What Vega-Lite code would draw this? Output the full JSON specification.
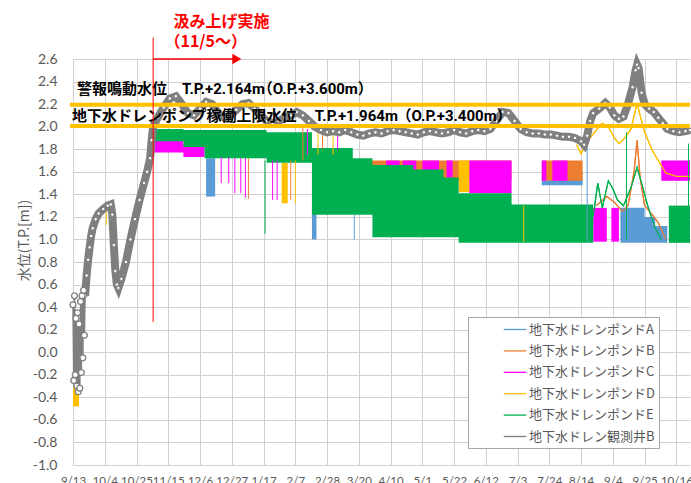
{
  "$schema": "https://vega.github.io/schema/vega-lite/v6.json",
  "width": 617,
  "height": 406,
  "autosize": {"type": "none"},
  "padding": {"left": 73, "top": 59, "right": 1, "bottom": 18},
  "background": "white",
  "config": {"view": {"stroke": null}},
  "datasets": {
    "bands": [
      {"s":"A","g":"A1","d":"2015-12-10","v":1.38,"v2":1.72},
      {"s":"A","g":"A1","d":"2015-12-16","v":1.38,"v2":1.72},
      {"s":"A","g":"A2","d":"2016-02-18","v":1.0,"v2":1.3},
      {"s":"A","g":"A2","d":"2016-02-21","v":1.0,"v2":1.3},
      {"s":"A","g":"A3","d":"2016-07-19","v":1.48,"v2":1.6},
      {"s":"A","g":"A3","d":"2016-08-15","v":1.48,"v2":1.6},
      {"s":"A","g":"A4","d":"2016-09-09","v":0.97,"v2":1.28},
      {"s":"A","g":"A4","d":"2016-09-25","v":0.97,"v2":1.2},
      {"s":"A","g":"A4","d":"2016-10-02","v":0.97,"v2":1.12},
      {"s":"A","g":"A4","d":"2016-10-10","v":0.97,"v2":1.12},
      {"s":"B","g":"B1","d":"2016-03-16","v":1.52,"v2":1.7},
      {"s":"B","g":"B1","d":"2016-06-29","v":1.52,"v2":1.7},
      {"s":"B","g":"B2","d":"2016-07-19","v":1.52,"v2":1.7},
      {"s":"B","g":"B2","d":"2016-08-15","v":1.52,"v2":1.7},
      {"s":"C","g":"C01","d":"2015-11-05","v":1.77,"v2":1.9},
      {"s":"C","g":"C01","d":"2015-11-25","v":1.73,"v2":1.84},
      {"s":"C","g":"C01","d":"2015-12-09","v":1.73,"v2":1.84},
      {"s":"C","g":"C02","d":"2016-04-07","v":1.55,"v2":1.7},
      {"s":"C","g":"C02","d":"2016-04-16","v":1.55,"v2":1.7},
      {"s":"C","g":"C03","d":"2016-04-18","v":1.55,"v2":1.7},
      {"s":"C","g":"C03","d":"2016-04-27","v":1.55,"v2":1.7},
      {"s":"C","g":"C04","d":"2016-05-01","v":1.55,"v2":1.7},
      {"s":"C","g":"C04","d":"2016-05-12","v":1.55,"v2":1.7},
      {"s":"C","g":"C05","d":"2016-05-17","v":1.55,"v2":1.7},
      {"s":"C","g":"C05","d":"2016-05-21","v":1.55,"v2":1.7},
      {"s":"C","g":"C06","d":"2016-06-01","v":1.41,"v2":1.7},
      {"s":"C","g":"C06","d":"2016-06-29","v":1.41,"v2":1.7},
      {"s":"C","g":"C07","d":"2016-07-19","v":1.52,"v2":1.7},
      {"s":"C","g":"C07","d":"2016-07-22","v":1.52,"v2":1.7},
      {"s":"C","g":"C08","d":"2016-07-26","v":1.52,"v2":1.7},
      {"s":"C","g":"C08","d":"2016-08-05","v":1.52,"v2":1.7},
      {"s":"C","g":"C09","d":"2016-08-22","v":0.98,"v2":1.28},
      {"s":"C","g":"C09","d":"2016-08-31","v":0.98,"v2":1.28},
      {"s":"C","g":"C10","d":"2016-09-03","v":0.98,"v2":1.28},
      {"s":"C","g":"C10","d":"2016-09-08","v":0.98,"v2":1.28},
      {"s":"C","g":"C11","d":"2016-10-06","v":1.52,"v2":1.7},
      {"s":"C","g":"C11","d":"2016-10-25","v":1.52,"v2":1.7},
      {"s":"D","g":"D0","d":"2015-09-13","v":-0.48,"v2":-0.3},
      {"s":"D","g":"D0","d":"2015-09-17","v":-0.48,"v2":-0.3},
      {"s":"D","g":"D1","d":"2016-01-29","v":1.32,"v2":1.68},
      {"s":"D","g":"D1","d":"2016-02-02","v":1.32,"v2":1.68},
      {"s":"D","g":"D2","d":"2016-05-25","v":1.42,"v2":1.7},
      {"s":"D","g":"D2","d":"2016-06-01","v":1.42,"v2":1.7},
      {"s":"E","g":"E1","d":"2015-11-05","v":1.87,"v2":1.98},
      {"s":"E","g":"E1","d":"2015-11-25","v":1.82,"v2":1.97},
      {"s":"E","g":"E1","d":"2015-12-09","v":1.72,"v2":1.97},
      {"s":"E","g":"E1","d":"2016-01-19","v":1.68,"v2":1.95},
      {"s":"E","g":"E1","d":"2016-02-18","v":1.22,"v2":1.81},
      {"s":"E","g":"E1","d":"2016-03-16","v":1.22,"v2":1.72},
      {"s":"E","g":"E1","d":"2016-03-29","v":1.02,"v2":1.66},
      {"s":"E","g":"E1","d":"2016-04-25","v":1.02,"v2":1.62},
      {"s":"E","g":"E1","d":"2016-05-15","v":1.02,"v2":1.55},
      {"s":"E","g":"E1","d":"2016-05-25","v":0.97,"v2":1.41},
      {"s":"E","g":"E1","d":"2016-06-29","v":0.97,"v2":1.31},
      {"s":"E","g":"E1","d":"2016-08-22","v":0.97,"v2":1.31},
      {"s":"E","g":"E2","d":"2016-10-11","v":0.97,"v2":1.3},
      {"s":"E","g":"E2","d":"2016-10-25","v":0.97,"v2":1.3}
    ],
    "spikes": [
      {"s":"D","d":"2015-10-05","v":1.13,"v2":1.27},
      {"s":"C","d":"2015-12-20","v":1.5,"v2":1.73},
      {"s":"C","d":"2015-12-25","v":1.5,"v2":1.73},
      {"s":"C","d":"2015-12-29","v":1.41,"v2":1.72},
      {"s":"C","d":"2016-01-02","v":1.41,"v2":1.72},
      {"s":"C","d":"2016-01-05","v":1.37,"v2":1.72},
      {"s":"B","d":"2016-01-07","v":1.36,"v2":1.72},
      {"s":"E","d":"2016-01-18","v":1.05,"v2":1.7},
      {"s":"C","d":"2016-01-23","v":1.35,"v2":1.7},
      {"s":"C","d":"2016-01-26","v":1.35,"v2":1.7},
      {"s":"B","d":"2016-02-04","v":1.35,"v2":1.7},
      {"s":"D","d":"2016-02-07","v":1.32,"v2":1.7},
      {"s":"B","d":"2016-02-12","v":1.7,"v2":2.0},
      {"s":"C","d":"2016-02-15","v":1.75,"v2":1.98},
      {"s":"D","d":"2016-02-22","v":1.75,"v2":2.02},
      {"s":"B","d":"2016-02-25","v":1.8,"v2":2.0},
      {"s":"D","d":"2016-03-03","v":1.75,"v2":1.98},
      {"s":"C","d":"2016-03-06","v":1.8,"v2":1.97},
      {"s":"A","d":"2016-03-17","v":1.0,"v2":1.22},
      {"s":"D","d":"2016-07-07","v":0.98,"v2":1.3},
      {"s":"A","d":"2016-08-18","v":0.98,"v2":1.85},
      {"s":"E","d":"2016-09-13","v":1.0,"v2":1.95},
      {"s":"E","d":"2016-10-24","v":1.0,"v2":1.85}
    ],
    "thin": [
      {"s":"D","d":"2016-08-11","v":1.84},{"s":"D","d":"2016-08-14","v":1.76},{"s":"D","d":"2016-08-16","v":1.82},
      {"s":"D","d":"2016-08-20","v":1.9},{"s":"D","d":"2016-08-24","v":1.97},{"s":"D","d":"2016-08-28","v":2.03},
      {"s":"D","d":"2016-09-01","v":2.0},{"s":"D","d":"2016-09-05","v":1.9},{"s":"D","d":"2016-09-08","v":1.85},
      {"s":"D","d":"2016-09-12","v":1.9},{"s":"D","d":"2016-09-16","v":1.98},{"s":"D","d":"2016-09-19","v":2.15},
      {"s":"D","d":"2016-09-20","v":2.21},{"s":"D","d":"2016-09-22","v":2.1},{"s":"D","d":"2016-09-25","v":1.95},
      {"s":"D","d":"2016-09-30","v":1.79},{"s":"D","d":"2016-10-04","v":1.7},{"s":"D","d":"2016-10-09","v":1.59},
      {"s":"D","d":"2016-10-16","v":1.56},{"s":"D","d":"2016-10-25","v":1.56},
      {"s":"B","d":"2016-08-24","v":1.3},{"s":"B","d":"2016-08-31","v":1.38},{"s":"B","d":"2016-09-05","v":1.33},
      {"s":"B","d":"2016-09-10","v":1.25},{"s":"B","d":"2016-09-14","v":1.3},{"s":"B","d":"2016-09-18","v":1.6},
      {"s":"B","d":"2016-09-20","v":1.88},{"s":"B","d":"2016-09-22","v":1.55},{"s":"B","d":"2016-09-25","v":1.3},
      {"s":"B","d":"2016-09-30","v":1.22},{"s":"B","d":"2016-10-04","v":1.15},{"s":"B","d":"2016-10-09","v":1.0},
      {"s":"E","d":"2016-08-22","v":1.2},{"s":"E","d":"2016-08-25","v":1.5},{"s":"E","d":"2016-08-28","v":1.28},
      {"s":"E","d":"2016-09-01","v":1.52},{"s":"E","d":"2016-09-04","v":1.45},{"s":"E","d":"2016-09-07","v":1.35},
      {"s":"E","d":"2016-09-11","v":1.3},{"s":"E","d":"2016-09-16","v":1.46},{"s":"E","d":"2016-09-20","v":1.64},
      {"s":"E","d":"2016-09-23","v":1.5},{"s":"E","d":"2016-09-27","v":1.3},{"s":"E","d":"2016-10-02","v":1.1},
      {"s":"E","d":"2016-10-06","v":1.0}
    ],
    "well": [
      {"s":"W","p":1,"d":"2015-09-13T00:00:00Z","v":0.42},{"s":"W","p":1,"d":"2015-09-13T12:00:00Z","v":-0.25},
      {"s":"W","p":1,"d":"2015-09-14T00:00:00Z","v":0.5},{"s":"W","p":1,"d":"2015-09-14T12:00:00Z","v":-0.2},
      {"s":"W","p":1,"d":"2015-09-15T00:00:00Z","v":0.3},{"s":"W","p":1,"d":"2015-09-15T12:00:00Z","v":-0.3},
      {"s":"W","p":1,"d":"2015-09-16T00:00:00Z","v":0.35},{"s":"W","p":1,"d":"2015-09-16T12:00:00Z","v":-0.35},
      {"s":"W","p":1,"d":"2015-09-17T00:00:00Z","v":0.25},{"s":"W","p":1,"d":"2015-09-17T12:00:00Z","v":-0.32},
      {"s":"W","p":1,"d":"2015-09-18T00:00:00Z","v":0.45},{"s":"W","p":1,"d":"2015-09-18T12:00:00Z","v":-0.18},
      {"s":"W","p":1,"d":"2015-09-19T00:00:00Z","v":0.5},{"s":"W","p":1,"d":"2015-09-19T12:00:00Z","v":-0.05},
      {"s":"W","p":1,"d":"2015-09-20T00:00:00Z","v":0.55},{"s":"W","p":1,"d":"2015-09-20T12:00:00Z","v":0.15},
      {"s":"W","p":0,"d":"2015-09-21","v":0.5},{"s":"W","p":0,"d":"2015-09-22","v":0.68},{"s":"W","p":0,"d":"2015-09-23","v":0.82},
      {"s":"W","p":0,"d":"2015-09-24","v":0.93},{"s":"W","p":0,"d":"2015-09-25","v":1.03},{"s":"W","p":0,"d":"2015-09-26","v":1.1},
      {"s":"W","p":0,"d":"2015-09-28","v":1.18},{"s":"W","p":0,"d":"2015-09-30","v":1.23},{"s":"W","p":0,"d":"2015-10-03","v":1.27},
      {"s":"W","p":0,"d":"2015-10-06","v":1.3},{"s":"W","p":0,"d":"2015-10-08","v":1.31},{"s":"W","p":0,"d":"2015-10-09","v":1.22},
      {"s":"W","p":0,"d":"2015-10-10","v":0.95},{"s":"W","p":0,"d":"2015-10-11","v":0.72},{"s":"W","p":0,"d":"2015-10-12","v":0.6},
      {"s":"W","p":0,"d":"2015-10-13","v":0.57},{"s":"W","p":0,"d":"2015-10-15","v":0.65},{"s":"W","p":0,"d":"2015-10-18","v":0.8},
      {"s":"W","p":0,"d":"2015-10-21","v":1.0},{"s":"W","p":0,"d":"2015-10-24","v":1.18},{"s":"W","p":0,"d":"2015-10-27","v":1.35},
      {"s":"W","p":0,"d":"2015-10-30","v":1.5},{"s":"W","p":0,"d":"2015-11-01","v":1.6},{"s":"W","p":0,"d":"2015-11-03","v":1.72},
      {"s":"W","p":0,"d":"2015-11-04","v":1.88},{"s":"W","p":0,"d":"2015-11-05","v":2.0},{"s":"W","p":0,"d":"2015-11-08","v":2.08},
      {"s":"W","p":0,"d":"2015-11-12","v":2.17},{"s":"W","p":0,"d":"2015-11-16","v":2.25},{"s":"W","p":0,"d":"2015-11-20","v":2.27},
      {"s":"W","p":0,"d":"2015-11-24","v":2.2},{"s":"W","p":0,"d":"2015-11-28","v":2.12},{"s":"W","p":0,"d":"2015-12-02","v":2.1},
      {"s":"W","p":0,"d":"2015-12-06","v":2.16},{"s":"W","p":0,"d":"2015-12-10","v":2.22},{"s":"W","p":0,"d":"2015-12-14","v":2.2},
      {"s":"W","p":0,"d":"2015-12-18","v":2.12},{"s":"W","p":0,"d":"2015-12-22","v":2.08},{"s":"W","p":0,"d":"2015-12-26","v":2.1},
      {"s":"W","p":0,"d":"2015-12-30","v":2.15},{"s":"W","p":0,"d":"2016-01-03","v":2.2},{"s":"W","p":0,"d":"2016-01-07","v":2.21},
      {"s":"W","p":0,"d":"2016-01-11","v":2.16},{"s":"W","p":0,"d":"2016-01-15","v":2.1},{"s":"W","p":0,"d":"2016-01-19","v":2.05},
      {"s":"W","p":0,"d":"2016-01-23","v":2.03},{"s":"W","p":0,"d":"2016-01-27","v":2.05},{"s":"W","p":0,"d":"2016-01-31","v":2.08},
      {"s":"W","p":0,"d":"2016-02-04","v":2.1},{"s":"W","p":0,"d":"2016-02-08","v":2.13},{"s":"W","p":0,"d":"2016-02-12","v":2.1},
      {"s":"W","p":0,"d":"2016-02-16","v":2.05},{"s":"W","p":0,"d":"2016-02-20","v":2.0},{"s":"W","p":0,"d":"2016-02-24","v":1.97},
      {"s":"W","p":0,"d":"2016-02-28","v":1.95},{"s":"W","p":0,"d":"2016-03-03","v":1.96},{"s":"W","p":0,"d":"2016-03-07","v":1.95},
      {"s":"W","p":0,"d":"2016-03-11","v":1.97},{"s":"W","p":0,"d":"2016-03-15","v":1.95},{"s":"W","p":0,"d":"2016-03-19","v":1.93},
      {"s":"W","p":0,"d":"2016-03-23","v":1.92},{"s":"W","p":0,"d":"2016-03-27","v":1.94},{"s":"W","p":0,"d":"2016-03-31","v":1.95},
      {"s":"W","p":0,"d":"2016-04-04","v":1.94},{"s":"W","p":0,"d":"2016-04-08","v":1.96},{"s":"W","p":0,"d":"2016-04-12","v":1.97},
      {"s":"W","p":0,"d":"2016-04-16","v":1.96},{"s":"W","p":0,"d":"2016-04-20","v":1.95},{"s":"W","p":0,"d":"2016-04-24","v":1.94},
      {"s":"W","p":0,"d":"2016-04-28","v":1.93},{"s":"W","p":0,"d":"2016-05-02","v":1.95},{"s":"W","p":0,"d":"2016-05-06","v":1.96},
      {"s":"W","p":0,"d":"2016-05-10","v":1.95},{"s":"W","p":0,"d":"2016-05-14","v":1.94},{"s":"W","p":0,"d":"2016-05-18","v":1.95},
      {"s":"W","p":0,"d":"2016-05-22","v":1.97},{"s":"W","p":0,"d":"2016-05-26","v":1.95},{"s":"W","p":0,"d":"2016-05-30","v":1.94},
      {"s":"W","p":0,"d":"2016-06-03","v":1.96},{"s":"W","p":0,"d":"2016-06-07","v":1.97},{"s":"W","p":0,"d":"2016-06-11","v":1.96},
      {"s":"W","p":0,"d":"2016-06-15","v":1.98},{"s":"W","p":0,"d":"2016-06-19","v":2.05},{"s":"W","p":0,"d":"2016-06-23","v":2.13},
      {"s":"W","p":0,"d":"2016-06-27","v":2.12},{"s":"W","p":0,"d":"2016-07-01","v":2.05},{"s":"W","p":0,"d":"2016-07-05","v":1.98},
      {"s":"W","p":0,"d":"2016-07-09","v":1.95},{"s":"W","p":0,"d":"2016-07-13","v":1.94},{"s":"W","p":0,"d":"2016-07-17","v":1.94},
      {"s":"W","p":0,"d":"2016-07-21","v":1.93},{"s":"W","p":0,"d":"2016-07-25","v":1.93},{"s":"W","p":0,"d":"2016-07-29","v":1.92},
      {"s":"W","p":0,"d":"2016-08-02","v":1.91},{"s":"W","p":0,"d":"2016-08-06","v":1.91},{"s":"W","p":0,"d":"2016-08-10","v":1.9},
      {"s":"W","p":0,"d":"2016-08-14","v":1.87},{"s":"W","p":0,"d":"2016-08-16","v":1.84},{"s":"W","p":0,"d":"2016-08-18","v":1.92},
      {"s":"W","p":0,"d":"2016-08-20","v":2.05},{"s":"W","p":0,"d":"2016-08-22","v":2.12},{"s":"W","p":0,"d":"2016-08-26","v":2.16},
      {"s":"W","p":0,"d":"2016-08-30","v":2.21},{"s":"W","p":0,"d":"2016-09-02","v":2.17},{"s":"W","p":0,"d":"2016-09-05","v":2.1},
      {"s":"W","p":0,"d":"2016-09-08","v":2.07},{"s":"W","p":0,"d":"2016-09-11","v":2.09},{"s":"W","p":0,"d":"2016-09-14","v":2.2},
      {"s":"W","p":0,"d":"2016-09-17","v":2.35},{"s":"W","p":0,"d":"2016-09-19","v":2.5},{"s":"W","p":0,"d":"2016-09-20","v":2.55},
      {"s":"W","p":0,"d":"2016-09-21","v":2.52},{"s":"W","p":0,"d":"2016-09-23","v":2.3},{"s":"W","p":0,"d":"2016-09-25","v":2.2},
      {"s":"W","p":0,"d":"2016-09-28","v":2.16},{"s":"W","p":0,"d":"2016-10-01","v":2.13},{"s":"W","p":0,"d":"2016-10-04","v":2.08},
      {"s":"W","p":0,"d":"2016-10-07","v":2.03},{"s":"W","p":0,"d":"2016-10-10","v":1.98},{"s":"W","p":0,"d":"2016-10-14","v":1.96},
      {"s":"W","p":0,"d":"2016-10-18","v":1.95},{"s":"W","p":0,"d":"2016-10-22","v":1.96},{"s":"W","p":0,"d":"2016-10-25","v":1.97}
    ],
    "thr": [
      {"d":"2015-09-11","d2":"2016-10-25","v":2.195},
      {"d":"2015-09-11","d2":"2016-10-25","v":2.005}
    ],
    "txt": [
      {"d":"2015-09-15T15:00:00Z","v":2.333,"t":"警報鳴動水位"},
      {"d":"2015-11-24T00:00:00Z","v":2.333,"t":"T.P.+2.164m"},
      {"d":"2016-01-13T05:00:00Z","v":2.333,"t":"（O.P.+3.600m）"},
      {"d":"2015-09-12T08:00:00Z","v":2.094,"t":"地下水ドレンポンプ稼働上限水位"},
      {"d":"2016-02-19T22:00:00Z","v":2.094,"t":"T.P.+1.964m"},
      {"d":"2016-04-14T00:00:00Z","v":2.094,"t":"（O.P.+3.400m）"}
    ],
    "redtxt": [
      {"d":"2015-11-18T10:00:00Z","v":2.927,"t":"汲み上げ実施"},
      {"d":"2015-11-12T12:00:00Z","v":2.75,"t":"（11/5～）"}
    ],
    "redv": [{"d":"2015-11-05","v":0.27,"v2":2.79}],
    "redh": [{"d":"2015-11-05","d2":"2015-12-28","v":2.6}],
    "redtri": [{"d":"2015-12-30T08:00:00Z","v":2.6}]
  },
  "encoding": {
    "x": {
      "field": "d", "type": "temporal",
      "scale": {"type": "utc", "domain": [{"year":2015,"month":9,"date":13,"utc":true},{"year":2016,"month":10,"date":25,"utc":true}]},
      "axis": {
        "title": null, "format": "%-m/%-d", "grid": true, "gridColor": "#d0d0d0", "domain": false,
        "ticks": false, "tickSize": 0, "labelPadding": 10, "labelFont": "Lato", "labelFontSize": 11.5,
        "labelColor": "#595959", "labelFlush": false, "labelOverlap": false,
        "values": [
          {"year":2015,"month":9,"date":13,"utc":true},{"year":2015,"month":10,"date":4,"utc":true},
          {"year":2015,"month":10,"date":25,"utc":true},{"year":2015,"month":11,"date":15,"utc":true},
          {"year":2015,"month":12,"date":6,"utc":true},{"year":2015,"month":12,"date":27,"utc":true},
          {"year":2016,"month":1,"date":17,"utc":true},{"year":2016,"month":2,"date":7,"utc":true},
          {"year":2016,"month":2,"date":28,"utc":true},{"year":2016,"month":3,"date":20,"utc":true},
          {"year":2016,"month":4,"date":10,"utc":true},{"year":2016,"month":5,"date":1,"utc":true},
          {"year":2016,"month":5,"date":22,"utc":true},{"year":2016,"month":6,"date":12,"utc":true},
          {"year":2016,"month":7,"date":3,"utc":true},{"year":2016,"month":7,"date":24,"utc":true},
          {"year":2016,"month":8,"date":14,"utc":true},{"year":2016,"month":9,"date":4,"utc":true},
          {"year":2016,"month":9,"date":25,"utc":true},{"year":2016,"month":10,"date":16,"utc":true}
        ]
      }
    },
    "y": {
      "field": "v", "type": "quantitative",
      "scale": {"domain": [-1, 2.6], "nice": false, "zero": false},
      "axis": {
        "title": "水位(T.P.[m])", "titleFont": "Noto Sans CJK JP", "titleFontSize": 14, "titleFontWeight": "normal",
        "titleColor": "#595959", "titleX": -49, "titleY": 181, "titleAngle": -90, "titleAlign": "center", "titleBaseline": "middle",
        "grid": true, "gridColor": "#d0d0d0", "domain": false, "ticks": false, "tickSize": 0, "labelPadding": 16,
        "labelFont": "Lato", "labelFontSize": 14, "labelColor": "#595959",
        "values": [-1,-0.8,-0.6,-0.4,-0.2,0,0.2,0.4,0.6,0.8,1,1.2,1.4,1.6,1.8,2,2.2,2.4,2.6],
        "labelExpr": "replace(format(datum.value, '.1f'), '\u2212', '-')"
      }
    }
  },
  "layer": [
    {
      "data": {"name": "thin"},
      "mark": {"type": "line", "strokeWidth": 1.2},
      "encoding": {
        "color": {
          "field": "s", "type": "nominal",
          "scale": {"domain": ["A","B","C","D","E","W"], "range": ["#5b9bd5","#ed7d31","#ff00ff","#ffc000","#00b050","#7f7f7f"]},
          "legend": {
            "orient": "none", "legendX": 395, "legendY": 258, "title": null,
            "fillColor": "white", "strokeColor": "#a6a6a6", "padding": 4,
            "symbolType": "M-1.5,0L1.5,0", "symbolSize": 225, "symbolStrokeWidth": 1.3,
            "symbolOffset": 34.5, "labelOffset": 5.5,
            "labelFont": "Noto Sans CJK JP", "labelFontSize": 13, "labelColor": "#595959",
            "rowPadding": 5.4, "labelLimit": 400,
            "labelExpr": "(datum.label === 'W' ? '地下水ドレン観測井B' : '地下水ドレンポンド' + datum.label) + '\u3000\u3000 '"
          }
        }
      }
    },
    {
      "data": {"name": "bands"},
      "mark": {"type": "area", "interpolate": "step-after", "opacity": 1},
      "encoding": {
        "y2": {"field": "v2"},
        "detail": {"field": "g", "type": "nominal"},
        "color": {"field": "s", "type": "nominal", "legend": null}
      }
    },
    {
      "data": {"name": "thin"},
      "mark": {"type": "line", "strokeWidth": 1.2},
      "encoding": {
        "color": {"field": "s", "type": "nominal", "legend": null}
      }
    },
    {
      "data": {"name": "spikes"},
      "mark": {"type": "rule", "strokeWidth": 1},
      "encoding": {
        "y2": {"field": "v2"},
        "color": {"field": "s", "type": "nominal", "legend": null}
      }
    },
    {
      "data": {"name": "well"},
      "mark": {"type": "line", "strokeWidth": 1.5, "color": "#7f7f7f"},
      "encoding": {}
    },
    {
      "data": {"name": "well"},
      "transform": [{"filter": "datum.p === 0"}],
      "mark": {"type": "line", "strokeWidth": 8},
      "encoding": {
        "color": {"field": "s", "type": "nominal", "legend": null}
      }
    },
    {
      "data": {"name": "well"},
      "transform": [{"filter": "datum.p === 0"}],
      "mark": {"type": "point", "shape": "circle", "filled": true, "fill": "white", "stroke": "#7f7f7f", "strokeWidth": 1, "size": 12, "opacity": 1}
    },
    {
      "data": {"name": "well"},
      "transform": [{"filter": "datum.p === 1"}],
      "mark": {"type": "point", "shape": "circle", "filled": true, "fill": "white", "stroke": "#7f7f7f", "strokeWidth": 1.3, "size": 34, "opacity": 1}
    },
    {
      "data": {"name": "thr"},
      "mark": {"type": "rule", "color": "#ffc000", "strokeWidth": 4, "clip": false},
      "encoding": {
        "x2": {"field": "d2"}
      }
    },
    {
      "data": {"name": "txt"},
      "mark": {"type": "text", "align": "left", "baseline": "middle", "font": "Roboto, Noto Sans CJK JP", "fontSize": 15, "fontWeight": "bold", "color": "#000000", "clip": false},
      "encoding": {
        "text": {"field": "t", "type": "nominal"}
      }
    },
    {
      "data": {"name": "redv"},
      "mark": {"type": "rule", "color": "#ff0000", "strokeWidth": 1, "clip": false},
      "encoding": {
        "y2": {"field": "v2"}
      }
    },
    {
      "data": {"name": "redh"},
      "mark": {"type": "rule", "color": "#ff0000", "strokeWidth": 1.5, "clip": false},
      "encoding": {
        "x2": {"field": "d2"}
      }
    },
    {
      "data": {"name": "redtri"},
      "mark": {"type": "point", "shape": "triangle-right", "filled": true, "color": "#ff0000", "size": 110, "opacity": 1, "clip": false}
    },
    {
      "data": {"name": "redtxt"},
      "mark": {"type": "text", "align": "left", "baseline": "middle", "font": "Noto Sans CJK JP", "fontSize": 16, "fontWeight": "bold", "color": "#ff0000", "clip": false},
      "encoding": {
        "text": {"field": "t", "type": "nominal"}
      }
    }
  ]
}
